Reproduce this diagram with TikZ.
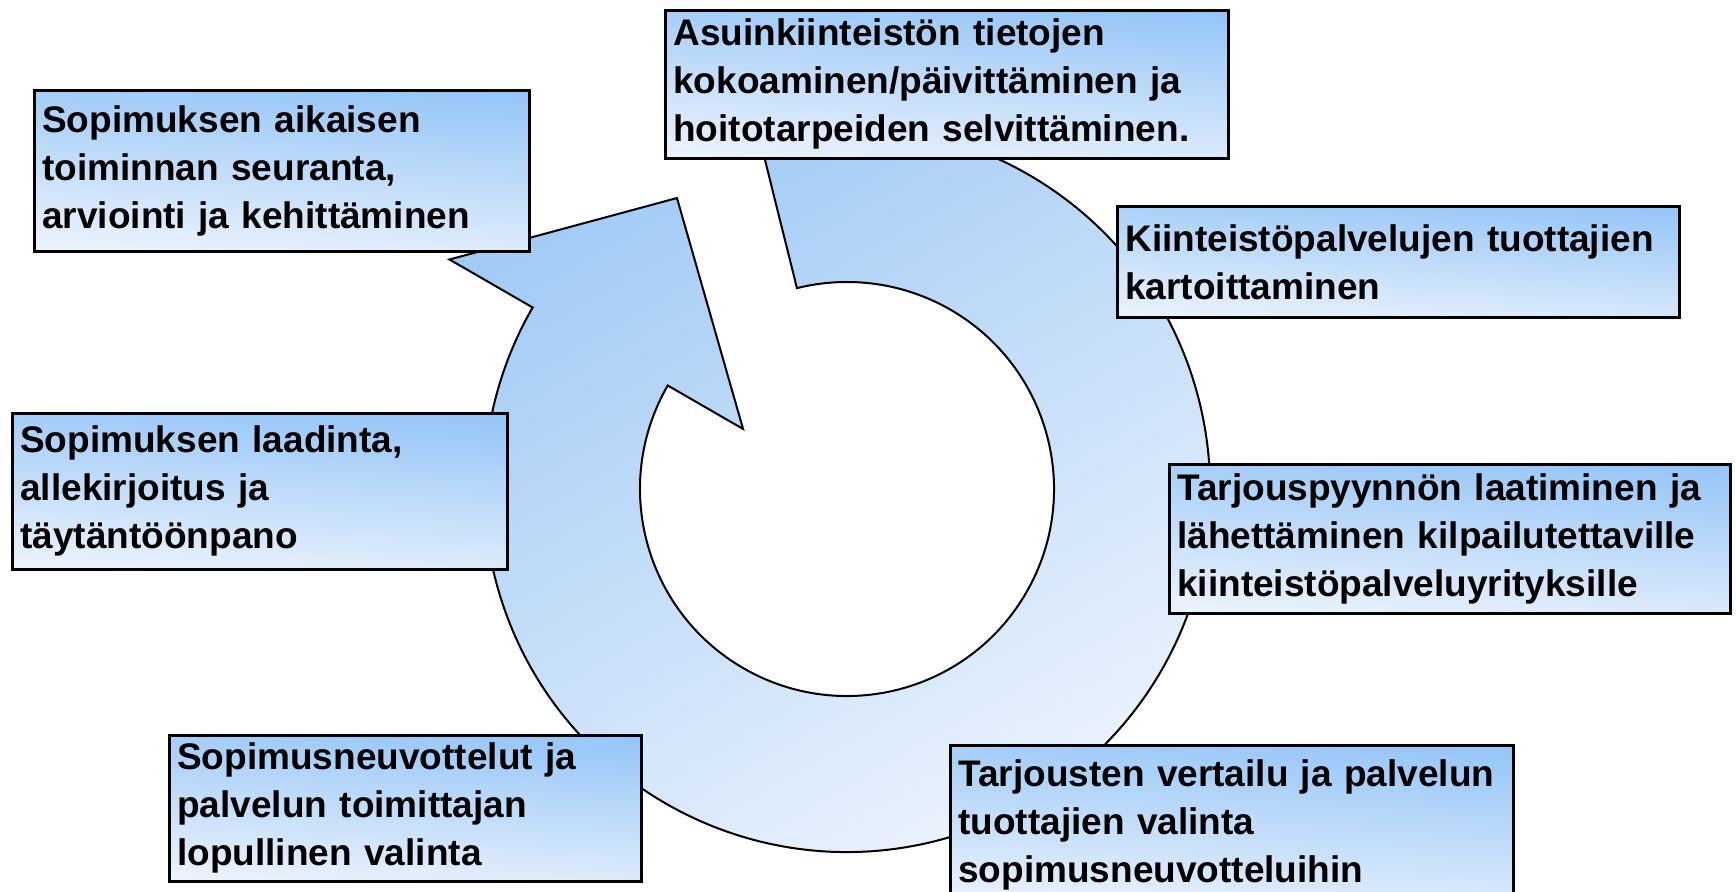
\documentclass[tikz,border=0pt]{standalone}
\usepackage{fontspec}
\setmainfont{Liberation Sans}
\definecolor{boxtop}{RGB}{150,198,248}
\definecolor{boxbot}{RGB}{234,242,252}
\definecolor{ringtop}{RGB}{160,202,245}
\definecolor{ringbot}{RGB}{238,244,253}
\begin{document}
\begin{tikzpicture}[x=1pt,y=1pt,
  box/.style={draw=black, line width=2.6pt, anchor=north west, align=left,
    inner xsep=8pt, inner ysep=0pt,
    font=\fontsize{37}{48}\selectfont\bfseries,
    top color=boxtop, bottom color=boxbot, shading angle=-4},
  ring/.style={draw=black, line width=2pt, top color=ringtop, bottom color=ringbot, shading angle=30}]
\useasboundingbox (0,0) rectangle (1736,891);
\fill[white] (0,0) rectangle (1736,891);
% circular arrow
\begin{scope}[shift={(847,402)}]
\path[ring] (104:207) -- (104:363) arc[start angle=104, end angle=-210, radius=363]
  -- (150:459) -- (120.3:337) -- (150:120) -- (150:207)
  arc[start angle=-210, end angle=104, radius=207] -- cycle;
\end{scope}
% boxes
\node[box, text width=547, minimum height=148] (a) at (664,882)
  {Asuinkiinteistön tietojen\\kokoaminen/päivittäminen ja\\hoitotarpeiden selvittäminen.};
\node[box, text width=479, minimum height=161] (b) at (33,802)
  {Sopimuksen aikaisen\\toiminnan seuranta,\\arviointi ja kehittäminen};
\node[box, text width=546, minimum height=111] (c) at (1116,686)
  {Kiinteistöpalvelujen tuottajien\\kartoittaminen};
\node[box, text width=479, minimum height=156] (d) at (11,479)
  {Sopimuksen laadinta,\\allekirjoitus ja\\täytäntöönpano};
\node[box, text width=545, minimum height=149] (e) at (1168,428)
  {Tarjouspyynnön laatiminen ja\\lähettäminen kilpailutettaville\\kiinteistöpalveluyrityksille};
\node[box, text width=456, minimum height=146] (f) at (168,157)
  {Sopimusneuvottelut ja\\palvelun toimittajan\\lopullinen valinta};
\node[box, text width=547, minimum height=160] (g) at (949,147)
  {Tarjousten vertailu ja palvelun\\tuottajien valinta\\sopimusneuvotteluihin};
\end{tikzpicture}
\end{document}
